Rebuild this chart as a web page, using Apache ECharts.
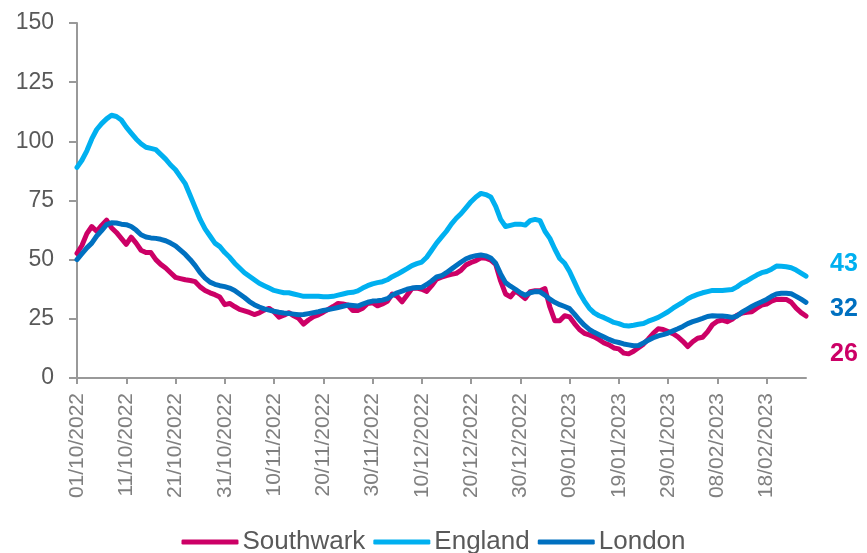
<!DOCTYPE html>
<html>
<head>
<meta charset="utf-8">
<title>Southwark, England, London</title>
<script src="https://cdn.jsdelivr.net/npm/echarts@6/dist/echarts.min.js"></script>
<style>
  html, body { margin: 0; padding: 0; background: #fff; }
  #main { width: 867px; height: 553px; }
</style>
</head>
<body>
<div id="main"></div>
<script>
// daily categories, 01/10/2022 .. 26/02/2023
var startDate = new Date(2022, 9, 1);
var dayCount = 149;
var categories = [];
for (var i = 0; i < dayCount; i++) {
  var d = new Date(startDate.getFullYear(), startDate.getMonth(), startDate.getDate() + i);
  var dd = ('0' + d.getDate()).slice(-2);
  var mm = ('0' + (d.getMonth() + 1)).slice(-2);
  categories.push(dd + '/' + mm + '/' + d.getFullYear());
}

var yTicks = [0, 25, 50, 75, 100, 125, 150];

var southwark = [
  52.7, 56, 61, 64, 62, 64.5, 66.7, 63.5, 61.5, 59,
  56.5, 59.5, 57, 54, 53, 53, 50, 48, 46.5, 44.5,
  42.5, 42, 41.5, 41.2, 40.7, 38.5, 37, 36, 35.2, 34.2,
  31, 31.5, 30.2, 29, 28.4, 27.7, 26.8, 27.5, 28.7, 29.4,
  28, 25.7, 26.5, 27.6, 26.3, 25.2, 22.8, 24.5, 25.9, 26.7,
  27.8, 29, 30.2, 31.5, 31.3, 30.8, 28.5, 28.5, 29.5, 31.5,
  31.8, 30.5, 31.3, 32.4, 35.5, 34.5, 32.2, 35, 37.8, 38,
  37.5, 36.6, 39, 41.8, 42.6, 43.3, 43.8, 44.2, 45.6, 47.8,
  48.8, 49.6, 50.8, 50.6, 49.8, 48, 41, 35.5, 34.3, 36.8,
  35.3, 33.6, 36.5, 36.9, 36.9, 37.8, 30, 24.2, 24.2, 26.3,
  25.8, 23, 20.5, 18.9, 18.2, 17.4, 16.2, 14.8, 14, 12.7,
  12.3, 10.5, 10.2, 11.3, 12.8, 14.3, 16.5, 18.9, 20.8, 20.5,
  19.6, 18.7, 17.4, 15.5, 13.3, 15.3, 16.8, 17.2, 19.5, 22.5,
  24, 24.5, 23.8, 24.8, 26.5, 27.4, 27.8, 28, 29.5, 30.8,
  31.2, 32.5, 33.2, 33.3, 33.2, 32, 29.5, 27.6, 26.2
];

var england = [
  89, 92, 96, 101, 105, 107.5, 109.5, 111, 110.5, 109,
  106, 103.5, 101, 99, 97.5, 97, 96.5, 94.5, 92.5, 90,
  88, 85, 82, 77, 72, 67, 63, 60, 57, 55.5,
  53, 51, 48.5, 46.5, 44.5, 43, 41.5, 40, 39, 38,
  37, 36.5, 36, 36, 35.5, 35, 34.5, 34.5, 34.5, 34.5,
  34.3, 34.3, 34.5, 35, 35.5, 36, 36.2, 36.8, 38, 39,
  39.8, 40.3, 40.7, 41.5, 42.8, 43.8, 45, 46.2, 47.5, 48.3,
  49, 51, 54, 57, 59.5, 62, 65, 67.5, 69.5, 72,
  74.5, 76.5, 78, 77.5, 76.5, 72.5, 67, 64, 64.5, 65,
  65, 64.6, 66.5, 67, 66.5, 62, 59, 54.5, 50.5, 48.5,
  45, 40.5, 36, 32.5, 29.5, 27.5, 26.3, 25.5, 24.5, 23.5,
  23, 22.2, 22, 22.3, 22.7, 23, 24, 24.8, 25.6, 26.8,
  28, 29.5, 30.8, 32, 33.5, 34.5, 35.3, 36, 36.5, 37,
  37, 37, 37.2, 37.4, 38.5, 40, 41, 42.3, 43.5, 44.5,
  45, 46, 47.3, 47.2, 47, 46.6, 45.6, 44.3, 43
];

var london = [
  50, 52.5, 55, 57, 60, 62.3, 64.8, 65.6, 65.5, 65,
  64.8, 64, 62.5, 60.5, 59.6, 59.2, 59, 58.6, 58, 57,
  55.8, 54, 52.2, 50, 47.5, 44.5, 42.2, 40.5, 39.6, 39,
  38.6, 38, 37, 35.5, 34, 32.3, 31, 30, 29.2, 28.7,
  28.2, 27.8, 27.5, 27.3, 27, 26.7, 26.8, 27.2, 27.6, 28,
  28.5, 28.9, 29.3, 29.8, 30.3, 30.8, 30.6, 30.4, 31.2, 32,
  32.5, 32.6, 32.9, 33.5, 35, 36, 36.7, 37.5, 38, 38.2,
  38.3, 39.5, 41, 42.7, 43.2, 44.5, 46, 47.5, 49, 50.4,
  51.2, 51.7, 52, 51.6, 50.7, 48.5, 44, 40.3, 38.8, 37.5,
  36, 35, 36, 36.5, 36.4, 35, 33.3, 32, 31, 30.2,
  29.3, 27, 24.5, 22.3, 20.5, 19.3, 18.3, 17.3, 16.3, 15.5,
  15, 14.4, 14, 13.6, 13.7, 14.8, 16, 17, 17.8, 18.3,
  19, 19.9, 20.8, 21.8, 23, 23.8, 24.5, 25.2, 26, 26.3,
  26.2, 26.2, 26, 25.6, 26.2, 27.8, 29, 30.2, 31.3, 32.2,
  33.2, 34.5, 35.5, 35.8, 35.8, 35.6, 34.5, 33.3, 32
];

var font = 'Liberation Sans, Arial, sans-serif';

function makeSeries(name, data, color, labelOffset) {
  return {
    name: name,
    type: 'line',
    data: data,
    symbol: 'none',
    smooth: false,
    lineStyle: { color: color, width: 5, join: 'round', cap: 'round' },
    itemStyle: { color: color },
    endLabel: {
      show: true,
      formatter: function (p) { return Math.round(p.value); },
      color: color,
      fontFamily: font,
      fontSize: 25,
      fontWeight: 'bold',
      distance: 24,
      offset: labelOffset
    }
  };
}

var chart = echarts.init(document.getElementById('main'), null, { renderer: 'canvas' });

chart.setOption({
  animation: false,
  grid: { left: 77, right: 61, top: 23, bottom: 175, containLabel: false },
  legend: {
    top: 524,
    left: 'center',
    itemWidth: 57,
    itemHeight: 5,
    itemGap: 8,
    icon: 'roundRect',
    textStyle: { color: '#595959', fontFamily: font, fontSize: 26, padding: [0, 0, 0, -1] },
    data: ['Southwark', 'England', 'London']
  },
  xAxis: {
    type: 'category',
    boundaryGap: false,
    data: categories,
    axisLine: { lineStyle: { color: '#999', width: 2 } },
    axisTick: { show: true, interval: 9, length: 6, lineStyle: { color: '#999', width: 2 } },
    axisLabel: {
      interval: 9,
      rotate: 90,
      margin: 15,
      color: '#808080',
      fontFamily: font,
      fontSize: 21
    },
    splitLine: { show: false }
  },
  yAxis: {
    type: 'value',
    min: yTicks[0],
    max: yTicks[yTicks.length - 1],
    interval: 25,
    axisLine: { show: true, lineStyle: { color: '#999', width: 2 } },
    axisTick: { show: true, length: 8, lineStyle: { color: '#999', width: 2 } },
    axisLabel: { margin: 23, color: '#595959', fontFamily: font, fontSize: 23 },
    splitLine: { show: false }
  },
  series: [
    makeSeries('Southwark', southwark, '#CC0066', [0, 38]),
    makeSeries('England', england, '#00B0F0', [0, -12]),
    makeSeries('London', london, '#0070C0', [0, 7])
  ]
});
</script>
</body>
</html>
